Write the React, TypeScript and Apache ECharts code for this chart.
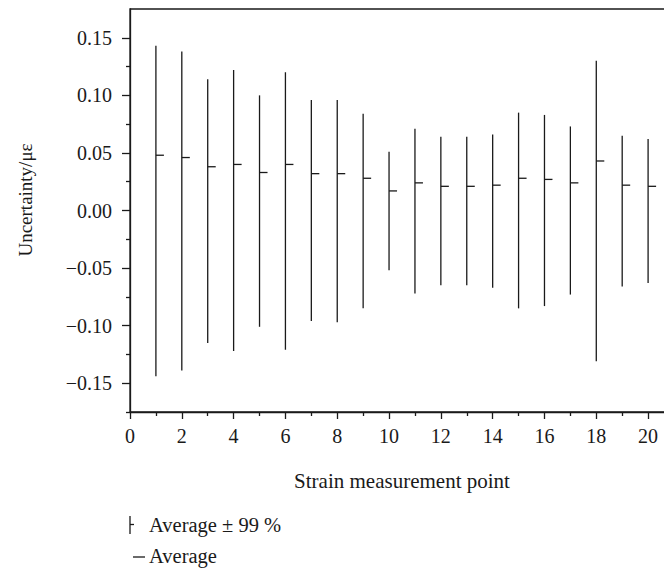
import React, { useEffect, useRef } from "react";
import * as echarts from "echarts";

const points = [1, 2, 3, 4, 5, 6, 7, 8, 9, 10, 11, 12, 13, 14, 15, 16, 17, 18, 19, 20];
const upper = [0.143, 0.138, 0.114, 0.122, 0.1, 0.12, 0.096, 0.096, 0.084, 0.051, 0.071, 0.064, 0.064, 0.066, 0.085, 0.083, 0.073, 0.13, 0.065, 0.062];
const lower = [-0.144, -0.139, -0.115, -0.122, -0.101, -0.121, -0.096, -0.097, -0.085, -0.052, -0.072, -0.065, -0.065, -0.067, -0.085, -0.083, -0.073, -0.131, -0.066, -0.063];
const average = [0.048, 0.046, 0.038, 0.04, 0.033, 0.04, 0.032, 0.032, 0.028, 0.017, 0.024, 0.021, 0.021, 0.022, 0.028, 0.027, 0.024, 0.043, 0.022, 0.021];

const xMajorTicks = [0, 2, 4, 6, 8, 10, 12, 14, 16, 18, 20];
const xMinorTicks = [1, 3, 5, 7, 9, 11, 13, 15, 17, 19];
const yMajorTicks = [-0.15, -0.1, -0.05, 0, 0.05, 0.1, 0.15];
const yMinorTicks = [-0.175, -0.125, -0.075, -0.025, 0.025, 0.075, 0.125];

const FONT = "'Liberation Serif', 'DejaVu Serif', serif";
const INK = "#1a1a1a";

export default function App() {
  const ref = useRef<HTMLDivElement>(null);
  useEffect(() => {
    if (!ref.current) return;
    const chart = echarts.init(ref.current, undefined, { renderer: "svg" });
    const fmtY = (v: number) => {
      const s = Math.abs(v).toFixed(2);
      return v < -1e-9 ? "\u2212" + s : s;
    };
    const baseX = {
      type: "value",
      min: 0,
      max: 21,
      position: "bottom",
      splitLine: { show: false },
    };
    const baseY = {
      type: "value",
      min: -0.175,
      max: 0.175,
      position: "left",
      splitLine: { show: false },
    };
    chart.setOption({
      animation: false,
      backgroundColor: "#ffffff",
      grid: {
        left: 130,
        top: 9,
        width: 544,
        height: 403,
        outerBoundsMode: "none",
        containLabel: false,
        show: true,
        borderColor: INK,
        borderWidth: 1.3,
        backgroundColor: "transparent",
      },
      xAxis: [
        {
          ...baseX,
          name: "Strain measurement point",
          nameLocation: "middle",
          nameGap: 58,
          nameTextStyle: { fontFamily: FONT, fontSize: 21, color: INK, verticalAlign: "top" },
          axisLine: { show: true, onZero: false, lineStyle: { color: INK, width: 1.3 } },
          axisTick: { show: true, length: 7, customValues: xMajorTicks, lineStyle: { color: INK, width: 1.3 } },
          axisLabel: { customValues: xMajorTicks, margin: 14, fontFamily: FONT, fontSize: 20, color: INK },
        },
        {
          ...baseX,
          axisLine: { show: false, onZero: false },
          axisTick: { show: true, length: 4, customValues: xMinorTicks, lineStyle: { color: INK, width: 1.3 } },
          axisLabel: { show: false },
        },
      ],
      yAxis: [
        {
          ...baseY,
          name: "Uncertainty/\u03bc\u03b5",
          nameLocation: "middle",
          nameGap: 95,
          nameTextStyle: { fontFamily: FONT, fontSize: 19, color: INK, padding: [0, 0, 0, 21] },
          axisLine: { show: true, onZero: false, lineStyle: { color: INK, width: 1.3 } },
          axisTick: { show: true, length: 8, customValues: yMajorTicks, lineStyle: { color: INK, width: 1.3 } },
          axisLabel: { customValues: yMajorTicks, margin: 18, fontFamily: FONT, fontSize: 20, color: INK, formatter: fmtY },
        },
        {
          ...baseY,
          axisLine: { show: false, onZero: false },
          axisTick: { show: true, length: 4, customValues: yMinorTicks, lineStyle: { color: INK, width: 1.3 } },
          axisLabel: { show: false },
        },
      ],
      series: [
        {
          name: "Average \u00b1 99 %",
          type: "custom",
          xAxisIndex: 0,
          yAxisIndex: 0,
          encode: { x: 0, y: [1, 2] },
          data: points.map((p, i) => [p, lower[i], upper[i]]),
          renderItem: (params: any, api: any) => {
            const a = api.coord([api.value(0), api.value(2)]);
            const b = api.coord([api.value(0), api.value(1)]);
            return {
              type: "line",
              shape: { x1: a[0], y1: a[1], x2: b[0], y2: b[1] },
              style: { stroke: INK, lineWidth: 1.3 },
            };
          },
          z: 3,
        },
        {
          name: "Average",
          type: "custom",
          xAxisIndex: 0,
          yAxisIndex: 0,
          encode: { x: 0, y: 1 },
          data: points.map((p, i) => [p, average[i]]),
          renderItem: (params: any, api: any) => {
            const c = api.coord([api.value(0), api.value(1)]);
            return {
              type: "line",
              shape: { x1: c[0], y1: c[1], x2: c[0] + 8, y2: c[1] },
              style: { stroke: INK, lineWidth: 1.3 },
            };
          },
          z: 3,
        },
      ],
      graphic: [
        { type: "line", shape: { x1: 130, y1: 516, x2: 130, y2: 534 }, style: { stroke: INK, lineWidth: 1.3 } },
        { type: "line", shape: { x1: 130, y1: 524.5, x2: 134, y2: 524.5 }, style: { stroke: INK, lineWidth: 1.3 } },
        {
          type: "text",
          x: 149,
          y: 525,
          style: { text: "Average \u00b1 99 %", fontFamily: FONT, fontSize: 20.5, fill: INK, verticalAlign: "middle" },
        },
        { type: "line", shape: { x1: 133, y1: 557, x2: 145, y2: 557 }, style: { stroke: INK, lineWidth: 1.3 } },
        {
          type: "text",
          x: 149,
          y: 556,
          style: { text: "Average", fontFamily: FONT, fontSize: 20.5, fill: INK, verticalAlign: "middle" },
        },
      ],
    });
    return () => chart.dispose();
  }, []);
  return (
    <div
      ref={ref}
      style={{ position: "fixed", left: 0, top: 0, width: 664, height: 571, background: "#fff" }}
    />
  );
}
